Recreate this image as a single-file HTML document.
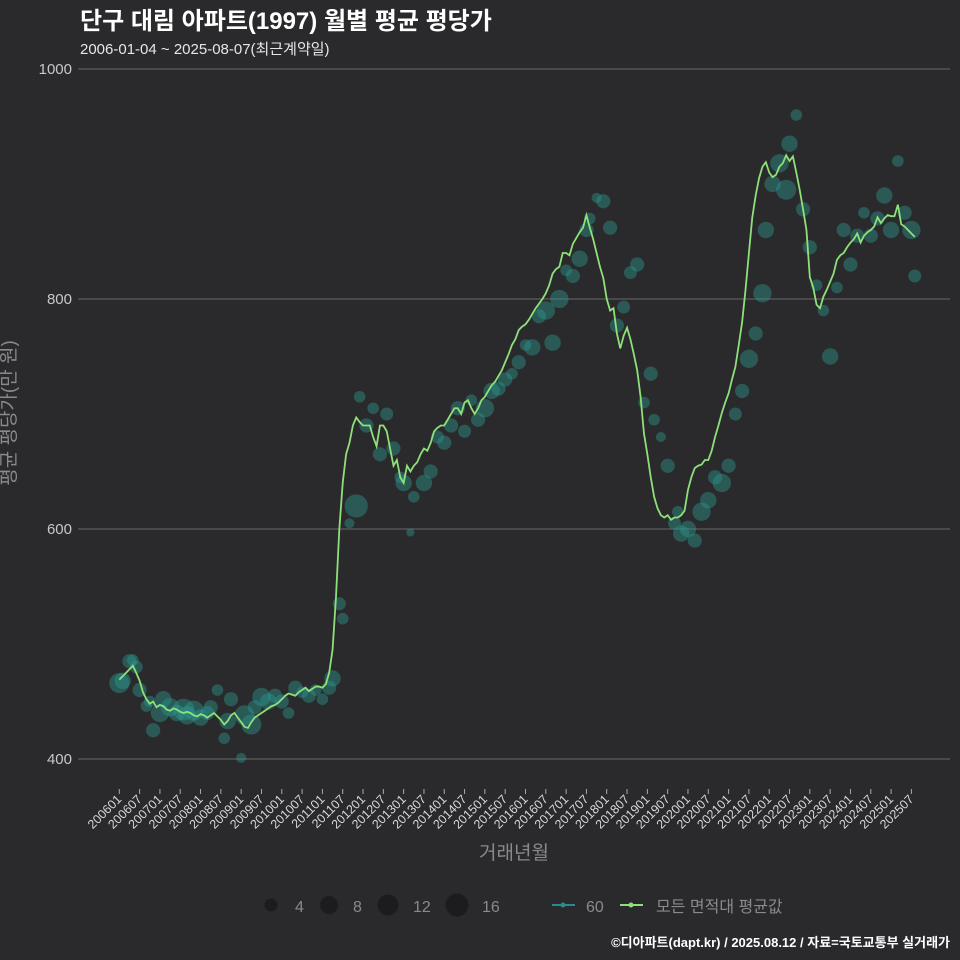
<!DOCTYPE html>
<html><head><meta charset="utf-8">
<style>
html,body{margin:0;padding:0;background:#2a2a2c;}
svg{display:block;font-family:"Liberation Sans","Noto Sans CJK KR",sans-serif;}
</style></head>
<body>
<svg id="chart" width="960" height="960" viewBox="0 0 960 960">
<rect width="960" height="960" fill="#2a2a2c"/>
<text x="80" y="29" fill="#ffffff" font-size="24" font-weight="bold">단구 대림 아파트(1997) 월별 평균 평당가</text>
<text x="80" y="54" fill="#e6e6e6" font-size="15">2006-01-04 ~ 2025-08-07(최근계약일)</text>
<g id="grid"></g>
<g id="yticks"></g>
<g id="xticks"></g>
<g id="dots"></g>
<path id="avgline" fill="none" stroke="#8ee07a" stroke-width="1.8"/>
<text x="15" y="413" fill="#8a8a8a" font-size="19" text-anchor="middle" transform="rotate(-90 15 413)">평균 평당가(만 원)</text>
<text x="514" y="859" fill="#8a8a8a" font-size="19" text-anchor="middle">거래년월</text>
<g>
<circle cx="271" cy="905" r="6.5" fill="#1c1c1e"/>
<text x="295" y="912" fill="#8a8a8a" font-size="16">4</text>
<circle cx="329" cy="905" r="9" fill="#1c1c1e"/>
<text x="353" y="912" fill="#8a8a8a" font-size="16">8</text>
<circle cx="388" cy="905" r="10.5" fill="#1c1c1e"/>
<text x="413" y="912" fill="#8a8a8a" font-size="16">12</text>
<circle cx="457" cy="905" r="11.5" fill="#1c1c1e"/>
<text x="482" y="912" fill="#8a8a8a" font-size="16">16</text>
<line x1="552" y1="905" x2="575" y2="905" stroke="#2a8c88" stroke-width="2"/>
<circle cx="563" cy="905" r="2.5" fill="#2a8c88"/>
<text x="586" y="912" fill="#8a8a8a" font-size="16">60</text>
<line x1="620" y1="905" x2="643" y2="905" stroke="#8ee07a" stroke-width="2"/>
<circle cx="631" cy="905" r="2.5" fill="#8ee07a"/>
<text x="656" y="912" fill="#8a8a8a" font-size="16">모든 면적대 평균값</text>
</g>
<text x="950" y="947" fill="#ffffff" font-size="13" font-weight="bold" text-anchor="end">©디아파트(dapt.kr) / 2025.08.12 / 자료=국토교통부 실거래가</text>
</svg>
<script>
const yTicks = [400, 600, 800, 1000];
const avgValues = [
469,472,475,478,481,475,468,458,452,448,450,445,
447,446,443,442,444,443,441,440,441,440,438,437,
439,438,436,438,440,437,434,430,433,438,440,436,
432,428,427,432,436,438,440,442,444,446,447,449,
452,455,457,456,455,458,460,462,459,461,463,463,
462,465,475,495,540,600,640,665,675,690,697,693,
690,690,690,680,672,690,690,685,670,655,660,645,
640,655,650,655,658,665,670,668,675,685,688,690,
690,695,700,705,705,700,710,712,705,700,705,712,
715,720,725,728,733,738,745,752,760,765,773,776,
778,782,787,792,796,800,805,812,822,826,828,840,
840,838,848,853,858,862,873,862,852,840,828,818,
800,790,792,770,757,768,775,765,752,738,715,683,
665,645,628,618,612,610,612,608,610,610,612,616,
634,645,653,655,656,660,660,668,680,690,701,710,
718,730,741,760,780,808,840,871,890,905,915,919,
910,906,908,915,918,925,920,924,910,895,878,860,
819,810,795,792,802,808,815,822,834,838,840,845,
849,852,857,849,855,858,860,863,871,866,870,873,
872,872,882,865,863,860,857,854];
const dotMonths = [0,1,3,4,5,6,8,9,10,12,13,15,17,19,20,22,24,26,27,29,31,32,33,36,37,39,40,42,44,46,48,50,52,54,56,58,60,62,63,65,66,68,70,71,73,75,77,79,81,83,84,86,87,90,92,94,96,98,100,102,104,106,108,110,112,114,116,118,120,122,124,126,128,130,132,134,136,138,139,141,143,145,147,149,151,153,155,157,158,160,162,164,165,166,168,170,172,174,176,178,180,182,184,186,188,190,191,193,195,197,198,200,202,204,206,208,210,212,214,216,218,220,222,224,226,228,230,232,234,235];
const dotValues = [466,468,485,486,480,460,446,450,425,440,452,445,440,443,438,442,436,440,445,460,418,433,452,401,438,430,445,454,450,455,450,440,462,458,455,460,452,462,470,535,522,605,620,715,690,705,665,700,670,645,640,597,628,640,650,680,675,690,705,685,712,695,705,720,722,730,735,745,760,758,785,790,762,800,825,820,835,860,870,888,885,862,777,793,823,830,710,735,695,680,655,605,615,596,600,590,615,625,645,640,655,700,720,748,770,805,860,900,918,895,935,960,878,845,812,790,750,810,860,830,855,875,855,870,890,860,920,875,860,820];
const dotCounts = [12,8,6,4,5,6,4,4,6,10,8,10,8,14,10,12,8,6,6,4,4,8,6,3,12,12,6,10,8,6,6,4,6,4,6,4,4,6,8,5,4,3,16,4,6,4,6,5,6,4,8,2,4,8,6,5,6,6,6,5,4,6,10,8,6,6,4,6,4,8,6,10,8,10,4,6,8,6,4,3,6,6,6,5,5,6,4,6,4,3,6,5,4,8,8,6,10,8,6,10,6,5,6,10,6,10,8,8,10,12,8,4,6,6,4,4,8,4,6,6,6,4,6,6,8,8,4,6,10,5];

const svg = document.getElementById('chart');
const NS = 'http://www.w3.org/2000/svg';
const xScale = m => 119.3 + m * 3.385;
const yScale = v => 759 - (v - 400) * 1.15;

const grid = document.getElementById('grid');
const yt = document.getElementById('yticks');
yTicks.forEach(v => {
  const l = document.createElementNS(NS, 'line');
  l.setAttribute('x1', 78); l.setAttribute('x2', 950);
  l.setAttribute('y1', yScale(v)); l.setAttribute('y2', yScale(v));
  l.setAttribute('stroke', '#686868'); l.setAttribute('stroke-width', '1');
  
  
  grid.appendChild(l);
  const t = document.createElementNS(NS, 'text');
  t.setAttribute('x', 72); t.setAttribute('y', yScale(v) + 5);
  t.setAttribute('text-anchor', 'end'); t.setAttribute('fill', '#c8c8c8');
  t.setAttribute('font-size', '15');
  t.textContent = v;
  
  
  yt.appendChild(t);
});

const xt = document.getElementById('xticks');
for (let m = 0; m <= 234; m += 6) {
  const yr = 2006 + Math.floor(m / 12);
  const mo = (m % 12) + 1;
  const lab = yr + String(mo).padStart(2, '0');
  const x = xScale(m);
  const tk = document.createElementNS(NS, 'line');
  tk.setAttribute('x1', x); tk.setAttribute('x2', x);
  tk.setAttribute('y1', 789); tk.setAttribute('y2', 794);
  tk.setAttribute('stroke', '#aaaaaa');
  
  
  xt.appendChild(tk);
  const t = document.createElementNS(NS, 'text');
  t.setAttribute('x', x + 3); t.setAttribute('y', 800);
  t.setAttribute('text-anchor', 'end'); t.setAttribute('fill', '#d8d8d8');
  t.setAttribute('font-size', '12.5');
  t.setAttribute('transform', 'rotate(-45 ' + (x + 3) + ' 800)');
  t.textContent = lab;
  
  
  xt.appendChild(t);
}

const dg = document.getElementById('dots');
dotMonths.forEach((m, i) => {
  const c = document.createElementNS(NS, 'circle');
  c.setAttribute('cx', xScale(m));
  c.setAttribute('cy', yScale(dotValues[i]));
  c.setAttribute('r', 2.9 * Math.sqrt(dotCounts[i]));
  c.setAttribute('fill', '#2a9a92');
  c.setAttribute('fill-opacity', '0.42');
  
  
  dg.appendChild(c);
});

let d = '';
avgValues.forEach((v, i) => {
  d += (i ? 'L' : 'M') + xScale(i).toFixed(2) + ',' + yScale(v).toFixed(2);
});
document.getElementById('avgline').setAttribute('d', d);
</script>
</body></html>
